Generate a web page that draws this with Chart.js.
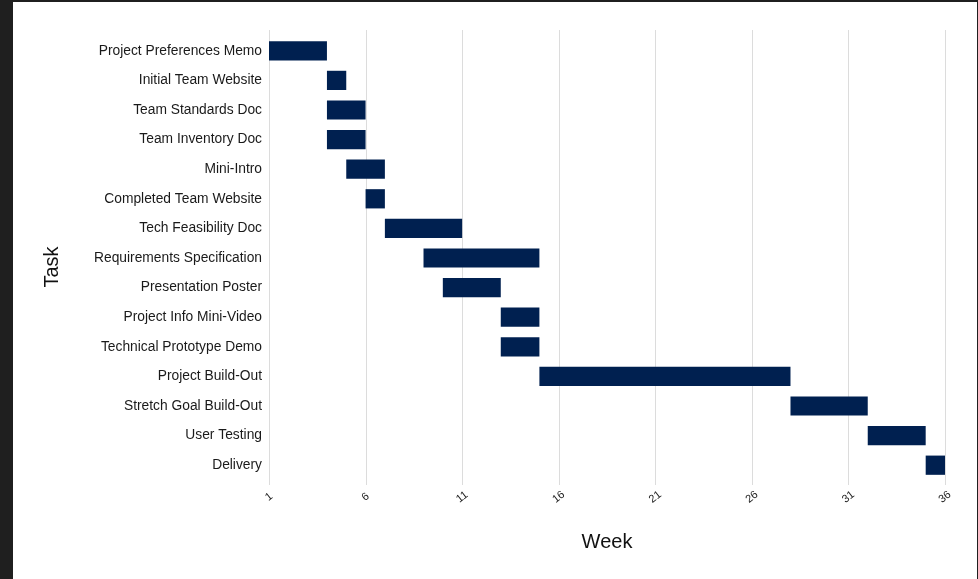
<!DOCTYPE html>
<html><head><meta charset="utf-8">
<script src="https://cdn.jsdelivr.net/npm/chart.js@4"></script>
<style>
html,body{margin:0;padding:0;background:#1f1f1f;width:978px;height:579px;overflow:hidden}
#wrap{position:absolute;left:13px;top:2px;width:964px;height:577px;background:#fff}
canvas{display:block}
</style></head><body><div id="wrap"><canvas id="c" width="964" height="577"></canvas></div>
<script>
const tasks = [
  "Project Preferences Memo","Initial Team Website","Team Standards Doc","Team Inventory Doc",
  "Mini-Intro","Completed Team Website","Tech Feasibility Doc","Requirements Specification",
  "Presentation Poster","Project Info Mini-Video","Technical Prototype Demo","Project Build-Out",
  "Stretch Goal Build-Out","User Testing","Delivery"
];
const startWeeks = [1,4,4,4,5,6,7,9,10,13,13,15,28,32,35];
const endWeeks   = [4,5,6,6,7,7,11,15,13,15,15,28,32,35,36];
const weekTicks  = [1,6,11,16,21,26,31,36];
const xTitle = "Week";
const yTitle = "Task";

const FONT = "'Liberation Sans', Arial, sans-serif";

const overlay = {
  id: 'overlay',
  beforeDatasetsDraw(chart) {
    const ctx = chart.ctx, xs = chart.scales.x;
    ctx.save();
    ctx.strokeStyle = '#dcdcdc';
    ctx.lineWidth = 1;
    weekTicks.forEach(v => {
      const px = Math.round(xs.getPixelForValue(v)) + 0.5;
      ctx.beginPath();
      ctx.moveTo(px, chart.chartArea.top - 6);
      ctx.lineTo(px, chart.chartArea.bottom + 5);
      ctx.stroke();
    });
    ctx.restore();
  },
  afterDraw(chart) {
    const ctx = chart.ctx, xs = chart.scales.x, ca = chart.chartArea;
    ctx.save();
    ctx.fillStyle = '#222';
    ctx.font = "11px " + FONT;
    ctx.textAlign = 'center';
    ctx.textBaseline = 'middle';
    weekTicks.forEach(v => {
      const px = xs.getPixelForValue(v);
      ctx.save();
      ctx.translate(px, ca.bottom + 17);
      ctx.rotate(-38 * Math.PI / 180);
      ctx.fillText(String(v), 0, 0);
      ctx.restore();
    });
    ctx.fillStyle = '#111';
    ctx.font = "20px " + FONT;
    ctx.fillText(xTitle, (ca.left + ca.right) / 2, ca.bottom + 62);
    ctx.save();
    ctx.translate(39, 265);
    ctx.rotate(-Math.PI / 2);
    ctx.fillText(yTitle, 0, 0);
    ctx.restore();
    ctx.restore();
  }
};

new Chart(document.getElementById('c'), {
  type: 'bar',
  data: {
    labels: tasks,
    datasets: [{
      data: tasks.map((t, i) => [startWeeks[i], endWeeks[i]]),
      backgroundColor: '#002050',
      borderWidth: 0,
      categoryPercentage: 1,
      barPercentage: 0.65
    }]
  },
  options: {
    indexAxis: 'y',
    responsive: false,
    animation: false,
    devicePixelRatio: 1,
    layout: { padding: { left: 0, right: 32, top: 34, bottom: 0 } },
    plugins: { legend: { display: false }, tooltip: { enabled: false } },
    scales: {
      x: {
        type: 'linear', min: 1, max: 36,
        grid: { display: false }, border: { display: false },
        ticks: { display: false },
        afterFit(s) { s.height = 99; }
      },
      y: {
        type: 'category',
        grid: { display: false, drawTicks: false }, border: { display: false },
        ticks: { padding: 7, color: '#1a1a1a', font: { family: FONT, size: 13.8 } },
        afterFit(s) { s.width = 256; }
      }
    }
  },
  plugins: [overlay]
});
</script></body></html>
